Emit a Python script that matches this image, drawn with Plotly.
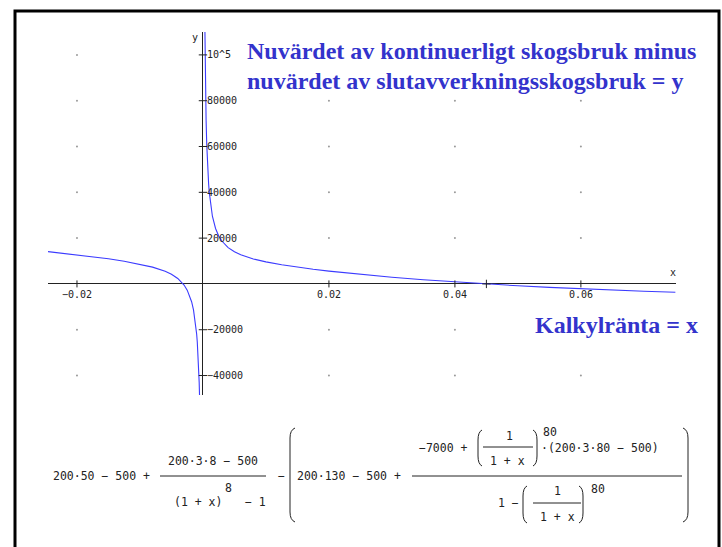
import plotly.graph_objects as go

# Curve values: difference in present value (y) against discount rate (x)
x_left = [-0.0246, -0.02, -0.015, -0.0125, -0.01, -0.008, -0.006, -0.005, -0.004,
          -0.0035, -0.003, -0.0025, -0.002, -0.0018, -0.0015, -0.0012, -0.001,
          -0.0009, -0.0008, -0.0007, -0.0006, -0.0005]
y_left = [14094, 12726, 10974, 9920, 8646, 7340, 5508, 4201, 2372,
          1122, -499, -2716, -5975, -7764, -11317, -16606, -21867,
          -25366, -29733, -35340, -42807, -53251]

x_right = [0.0003, 0.00035, 0.0004, 0.00045, 0.0005, 0.0006, 0.0007, 0.0008, 0.0009,
           0.001, 0.0012, 0.0015, 0.002, 0.0025, 0.003, 0.004, 0.005, 0.006, 0.008,
           0.01, 0.0125, 0.015, 0.0175, 0.02, 0.025, 0.03, 0.035, 0.04, 0.045,
           0.05, 0.055, 0.06, 0.065, 0.07, 0.075]
y_right = [113200, 98310, 87130, 78440, 71480, 61040, 53570, 47960, 43600,
           40100, 34840, 29550, 24210, 20950, 18730, 15860, 14040, 12730, 10910,
           9611, 8351, 7314, 6411, 5599, 4166, 2918, 1813, 830, -46,
           -828, -1525, -2146, -2700, -3194, -3637]

root_x = [0.045]
root_y = [0]

x_ticks = [-0.02, 0.02, 0.04, 0.06]
x_tick_labels = ["\u22120.02", "0.02", "0.04", "0.06"]
y_ticks = [100000, 80000, 60000, 40000, 20000, -20000, -40000]
y_tick_labels = ["10^5", "80000", "60000", "40000", "20000", "\u221220000", "\u221240000"]

X_RANGE = [-0.0246, 0.0751]
Y_RANGE = [-48500, 110000]

# plot area in pixels
W, H = 722, 547
ML, MR, MT, MB = 48, 46, 32, 152
PW, PH = W - ML - MR, H - MT - MB


def px(xp):
    return (xp - ML) / PW


def py(yp):
    return (H - MB - yp) / PH


CURVE = "#3b3bff"
TITLE = "#3333cc"
INK = "#222222"
MONO = "DejaVu Sans Mono"

fig = go.Figure()

# dotted grid at tick intersections
gx, gy = [], []
for xv in x_ticks:
    for yv in y_ticks:
        gx.append(xv)
        gy.append(yv)
fig.add_trace(go.Scatter(x=gx, y=gy, mode="markers",
                         marker=dict(size=2, color="#9a9a9a"),
                         hoverinfo="skip", showlegend=False))

for xs, ys in ((x_left, y_left), (x_right, y_right)):
    fig.add_trace(go.Scatter(x=xs, y=ys, mode="lines",
                             line=dict(color=CURVE, width=1.1),
                             showlegend=False))

# tick marks crossing the axes
fig.add_trace(go.Scatter(x=x_ticks, y=[0] * len(x_ticks), mode="markers",
                         marker=dict(symbol="line-ns", size=5, color=INK,
                                     line=dict(color=INK, width=1)),
                         showlegend=False, hoverinfo="skip"))
fig.add_trace(go.Scatter(x=[0] * len(y_ticks), y=y_ticks, mode="markers",
                         marker=dict(symbol="line-ew", size=6, color=INK,
                                     line=dict(color=INK, width=1)),
                         showlegend=False, hoverinfo="skip"))
# root marker
fig.add_trace(go.Scatter(x=root_x, y=root_y, mode="markers",
                         marker=dict(symbol="cross-thin-open", size=6, color=INK,
                                     line=dict(color=INK, width=1)),
                         showlegend=False, hoverinfo="skip"))

ann = []
for xv, lab in zip(x_ticks, x_tick_labels):
    ann.append(dict(x=xv, y=0, xref="x", yref="y", text=lab, showarrow=False,
                    xanchor="center", yanchor="top", yshift=-3,
                    font=dict(family=MONO, size=10, color=INK)))
for yv, lab in zip(y_ticks, y_tick_labels):
    ann.append(dict(x=0, y=yv, xref="x", yref="y", text=lab, showarrow=False,
                    xanchor="left", yanchor="middle", xshift=2,
                    font=dict(family=MONO, size=10, color=INK)))
ann.append(dict(x=px(673), y=py(272), xref="paper", yref="paper", text="x",
                showarrow=False, xanchor="center", yanchor="middle",
                font=dict(family=MONO, size=10, color=INK)))
ann.append(dict(x=px(195), y=py(38), xref="paper", yref="paper", text="y",
                showarrow=False, xanchor="center", yanchor="middle",
                font=dict(family=MONO, size=10, color=INK)))

# headings
serif = dict(family="Liberation Serif", size=24, color=TITLE)
ann.append(dict(x=px(245), y=py(51), xref="paper", yref="paper",
                text="<b>Nuvärdet av kontinuerligt skogsbruk minus</b>",
                showarrow=False, xanchor="left", yanchor="middle", font=serif))
ann.append(dict(x=px(245), y=py(81), xref="paper", yref="paper",
                text="<b>nuvärdet av slutavverkningsskogsbruk = y</b>",
                showarrow=False, xanchor="left", yanchor="middle", font=serif))
ann.append(dict(x=px(533), y=py(325), xref="paper", yref="paper",
                text="<b>Kalkylränta = x</b>",
                showarrow=False, xanchor="left", yanchor="middle", font=serif))

# formula
FS = 11.5


def t(text, xp, yp, anchor="left", size=FS):
    ann.append(dict(x=px(xp), y=py(yp), xref="paper", yref="paper", text=text,
                    showarrow=False, xanchor=anchor, yanchor="middle",
                    font=dict(family=MONO, size=size, color=INK)))


t("200\u00b750 \u2212 500 +", 51, 476)
t("200\u00b73\u00b78 \u2212 500", 213, 461, "center")
t("(1 + x)", 172, 502)
t("8", 228, 488, "center")
t("\u2212 1", 243, 502)
t("\u2212", 281, 476, "center")
t("200\u00b7130 \u2212 500 +", 295, 476)
t("\u22127000 +", 417, 448)
t("1", 510, 436, "center")
t("1 + x", 508, 461, "center")
t("80", 550, 432, "center")
t("\u00b7(200\u00b73\u00b780 \u2212 500)", 539, 448)
t("1 \u2212", 496, 503)
t("1", 557, 491, "center")
t("1 + x", 557, 517, "center")
t("80", 598, 489, "center")

shapes = []


def hline(x0, x1, yp):
    shapes.append(dict(type="line", xref="paper", yref="paper",
                       x0=px(x0), x1=px(x1), y0=py(yp), y1=py(yp),
                       line=dict(color=INK, width=1)))


def paren(xp, y0, y1, left=True, bulge=4):
    d = bulge if left else -bulge
    r = min(10, (y1 - y0) / 3)
    path = (f"M {px(xp + d)},{py(y0)} "
            f"Q {px(xp)},{py(y0 + 2)} {px(xp)},{py(y0 + r)} "
            f"L {px(xp)},{py(y1 - r)} "
            f"Q {px(xp)},{py(y1 - 2)} {px(xp + d)},{py(y1)}")
    shapes.append(dict(type="path", xref="paper", yref="paper", path=path,
                       line=dict(color=INK, width=1)))


hline(160, 266, 476)
hline(412, 682, 476)
hline(483, 533, 447)
hline(533, 581, 503)
paren(290, 428, 522, True, 5)
paren(688, 428, 522, False, 5)
paren(478, 430, 466, True, 4)
paren(537, 430, 466, False, 4)
paren(523, 486, 523, True, 4)
paren(583, 486, 523, False, 4)

# outer frame
shapes.append(dict(type="rect", xref="paper", yref="paper",
                   x0=px(15), x1=px(719), y0=py(11), y1=py(560),
                   line=dict(color="black", width=3), fillcolor="rgba(0,0,0,0)"))

fig.update_layout(
    width=W, height=H,
    margin=dict(l=ML, r=MR, t=MT, b=MB),
    paper_bgcolor="white", plot_bgcolor="white",
    showlegend=False,
    xaxis=dict(range=X_RANGE, showgrid=False, showticklabels=False, ticks="",
               zeroline=True, zerolinecolor=INK, zerolinewidth=1, showline=False,
               fixedrange=True),
    yaxis=dict(range=Y_RANGE, showgrid=False, showticklabels=False, ticks="",
               zeroline=True, zerolinecolor=INK, zerolinewidth=1, showline=False,
               fixedrange=True),
    annotations=ann,
    shapes=shapes,
)

fig.write_html("out.html", config={"displayModeBar": False})
